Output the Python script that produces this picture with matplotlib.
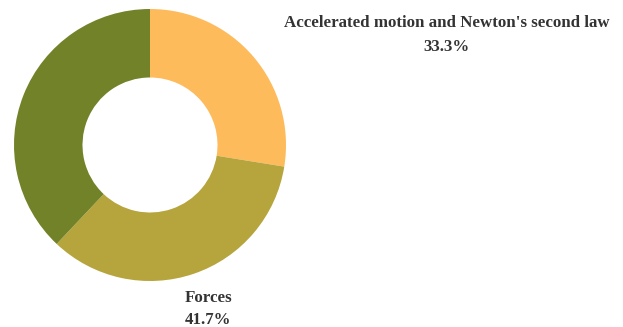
import matplotlib.pyplot as plt

# topic shares (two labelled slices + unlabelled remainder)
topics = ["Accelerated motion and Newton's second law", "Forces", ""]
shares = [33.3, 41.7, 45.9]
pct_text = ["33.3%", "41.7%", ""]
colors = ["#FDBB5C", "#B6A43C", "#728228"]

W, H = 623, 327
fig = plt.figure(figsize=(W / 100, H / 100), dpi=100)
ax = fig.add_axes([0, 0, 1, 1])

# donut, drawn clockwise from 12 o'clock
cx, cy, r = 150, H - 145, 136
ax.pie(shares, colors=colors, startangle=90, counterclock=False,
       center=(cx, cy), radius=r, frame=True,
       wedgeprops=dict(width=r - 67.5, linewidth=0))
ax.set_xlim(0, W)
ax.set_ylim(0, H)
ax.set_aspect("equal")
ax.axis("off")

font = dict(family="Liberation Serif", weight="bold", size=12.2,
            color="#333333", ha="center", va="center")

# labels
ax.text(447, H - 23, topics[0], **font)
ax.text(447, H - 47, pct_text[0], **font)
ax.text(208, H - 298, topics[1], **font)
ax.text(208, H - 320, pct_text[1], **font)

plt.savefig("out.png", dpi=100)
